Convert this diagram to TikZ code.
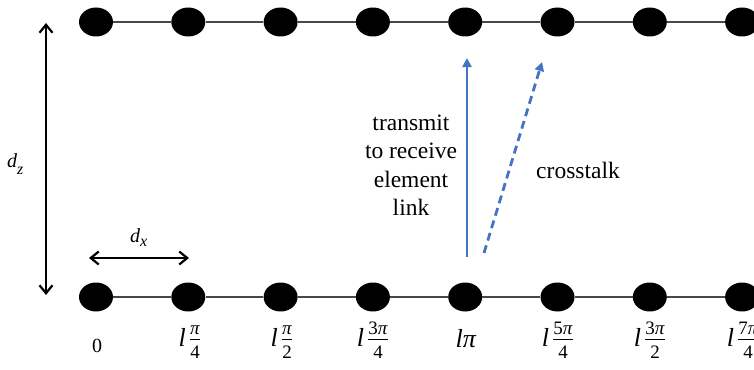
\RequirePackage{fix-cm}
\documentclass[tikz,border=0pt]{standalone}
\usepackage{fontspec}
\setmainfont{Liberation Serif}
\usetikzlibrary{arrows.meta,shapes.geometric}
\definecolor{linkblue}{RGB}{68,114,196}
\newcommand\myfrac[2]{\hspace{3pt}$\frac{\mbox{\fontsize{19}{22}\selectfont\rule[-4pt]{0pt}{4pt}#1}}{\mbox{\fontsize{19}{22}\selectfont\rule{0pt}{18pt}#2}}$}
\begin{document}
\begin{tikzpicture}[x=1pt,y=-1pt,
  dot/.style={ellipse, minimum width=34pt, minimum height=29pt, inner sep=0pt, fill=black},
  wire/.style={draw=black!72, line width=2.4pt},
  dimarrow/.style={line width=2.2pt, {Straight Barb[length=8pt,width=13pt]}-{Straight Barb[length=8pt,width=13pt]}},
  linkarrow/.style={draw=linkblue, line width=2.8pt, -{Triangle[length=9pt,width=9pt]}},
  talkarrow/.style={draw=linkblue, line width=2.8pt, dash pattern=on 8pt off 5pt, -{Triangle[length=9pt,width=9pt]}},
  lab/.style={inner sep=0pt, anchor=base, font=\fontsize{26}{30}\selectfont},
  txt/.style={inner sep=0pt, font=\fontsize{23.5}{28.5}\selectfont},
  sym/.style={inner sep=0pt, anchor=base west, font=\fontsize{20}{24}\selectfont\itshape}
]
\useasboundingbox (0,0) rectangle (754,369);
% element rows
\foreach \i in {0,...,7} {
  \node[dot] (t\i) at ({96+92.3*\i},22) {};
  \node[dot] (b\i) at ({96+92.3*\i},297) {};
}
\foreach \i [count=\j from 1] in {0,...,6} {
  \draw[wire] (t\i) -- (t\j);
  \draw[wire] (b\i) -- (b\j);
}
% labels
\node[inner sep=0pt, anchor=base, font=\fontsize{20}{24}\selectfont] (l0) at (97,352) {0};
\node[lab] (l1) at (190,346) {\textit{l}\myfrac{\textit{π}}{4}};
\node[lab] (l2) at (282,346) {\textit{l}\myfrac{\textit{π}}{2}};
\node[lab] (l3) at (373,346) {\textit{l}\myfrac{3\textit{π}}{4}};
\node[lab] (l4) at (466,347) {\textit{lπ}};
\node[lab] (l5) at (558,346) {\textit{l}\myfrac{5\textit{π}}{4}};
\node[lab] (l6) at (650,346) {\textit{l}\myfrac{3\textit{π}}{2}};
\node[lab] (l7) at (743,346) {\textit{l}\myfrac{7\textit{π}}{4}};
% dimensions
\coordinate (zt) at (46,23);
\coordinate (zb) at (46,295);
\draw[dimarrow] (zt) -- (zb);
\node[sym] (dz) at (7,167) {d\raisebox{-7pt}{\fontsize{16}{18}\selectfont z}};
\coordinate (xl) at (89,258);
\coordinate (xr) at (189,258);
\draw[dimarrow] (xl) -- (xr);
\node[sym] (dx) at (130,242) {d\raisebox{-4pt}{\fontsize{16}{18}\selectfont x}};
% links
\coordinate (s0) at (467,257);
\coordinate (s1) at (467,58);
\draw[linkarrow] (s0) -- (s1);
\coordinate (c0) at (484,253);
\coordinate (c1) at (542,62);
\draw[talkarrow] (c0) -- (c1);
\node[txt, align=center] (tl) at (411,165) {transmit\\to receive\\element\\link};
\node[txt, anchor=base] (ct) at (578,178) {crosstalk};
\end{tikzpicture}
\end{document}
